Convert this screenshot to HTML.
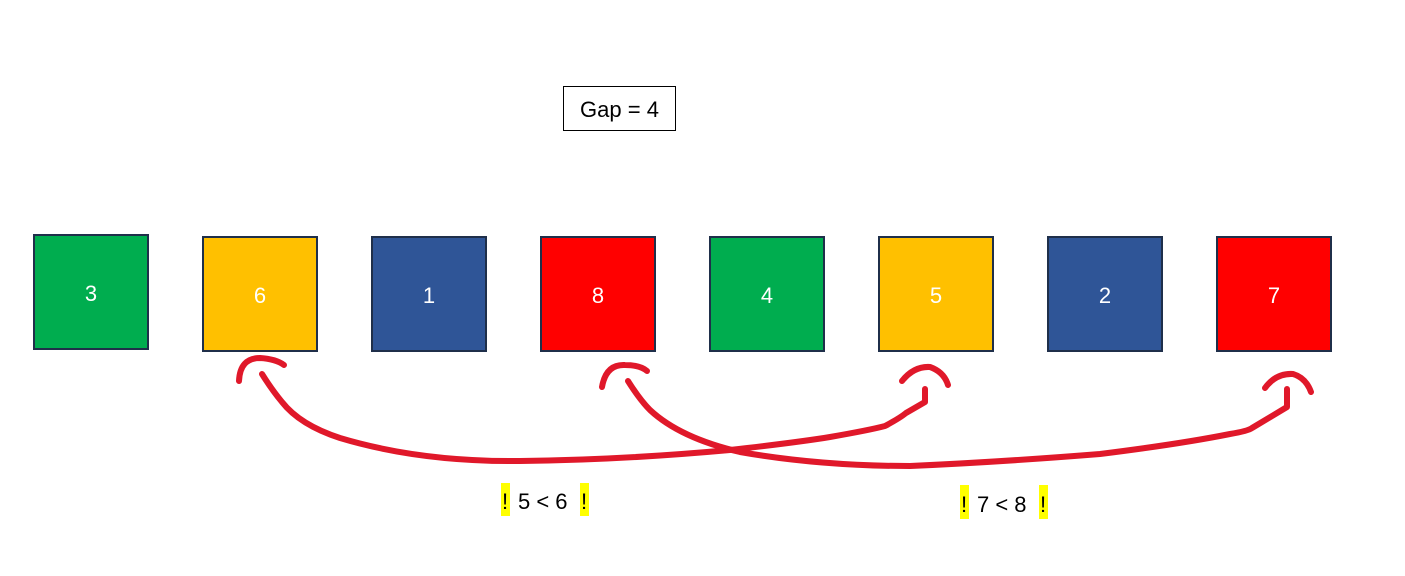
<!DOCTYPE html>
<html><head><meta charset="utf-8"><style>
body{margin:0;width:1405px;height:576px;background:#fff;overflow:hidden;font-family:"Liberation Sans",sans-serif}
</style></head><body>
<svg width="1405" height="576" viewBox="0 0 1405 576" xmlns="http://www.w3.org/2000/svg" style="position:absolute;left:0;top:0">
<rect x="563.5" y="86.5" width="112" height="44" fill="#fff" stroke="#000" stroke-width="1"/>
<text x="619.5" y="117" font-size="22" text-anchor="middle" fill="#000" font-family="Liberation Sans, sans-serif">Gap = 4</text>
<g stroke="#1f2f4a" stroke-width="2" font-family="Liberation Sans, sans-serif" font-size="22" text-anchor="middle">
<rect x="34" y="235" width="114" height="114" fill="#00ad4f"/>
<rect x="203" y="237" width="114" height="114" fill="#ffc000"/>
<rect x="372" y="237" width="114" height="114" fill="#2f5597"/>
<rect x="541" y="237" width="114" height="114" fill="#ff0000"/>
<rect x="710" y="237" width="114" height="114" fill="#00ad4f"/>
<rect x="879" y="237" width="114" height="114" fill="#ffc000"/>
<rect x="1048" y="237" width="114" height="114" fill="#2f5597"/>
<rect x="1217" y="237" width="114" height="114" fill="#ff0000"/>
</g>
<g fill="#fff" font-family="Liberation Sans, sans-serif" font-size="22" text-anchor="middle">
<text x="91" y="301">3</text><text x="260" y="303">6</text><text x="429" y="303">1</text><text x="598" y="303">8</text>
<text x="767" y="303">4</text><text x="936" y="303">5</text><text x="1105" y="303">2</text><text x="1274" y="303">7</text>
</g>
<g fill="none" stroke="#e0182a" stroke-width="6" stroke-linecap="round" stroke-linejoin="round">
<path d="M262,374 Q272,390 282,402 Q300,425 340,438 Q420,462 520,461 Q620,460 730,450 Q800,442 830,437 Q870,430 885,426 Q900,418 906,413 L925,402 L925,389"/>
<path d="M239,381 Q240,358 260,358 Q276,359 284,365"/>
<path d="M902,381 Q914,366 930,367 Q944,372 948,385"/>
<path d="M628,381 Q640,400 650,410 Q680,438 740,452 Q820,466 910,466 Q1000,462 1100,454 Q1180,444 1230,434 Q1248,431 1252,428 L1287,407 L1287,389"/>
<path d="M602,387 Q606,364 625,365 Q640,365 647,371"/>
<path d="M1265,388 Q1276,373 1293,374 Q1306,378 1311,392"/>
</g>
<g font-family="Liberation Sans, sans-serif" font-size="22" fill="#000">
<rect x="501" y="483" width="9" height="33" fill="#ffff00"/>
<rect x="580" y="483" width="9" height="33" fill="#ffff00"/>
<text x="502" y="509">!</text><text x="518" y="509">5 &lt; 6</text><text x="581" y="509">!</text>
<rect x="960" y="485" width="9" height="34" fill="#ffff00"/>
<rect x="1039" y="485" width="9" height="34" fill="#ffff00"/>
<text x="961" y="512">!</text><text x="977" y="512">7 &lt; 8</text><text x="1040" y="512">!</text>
</g>
</svg>
</body></html>
